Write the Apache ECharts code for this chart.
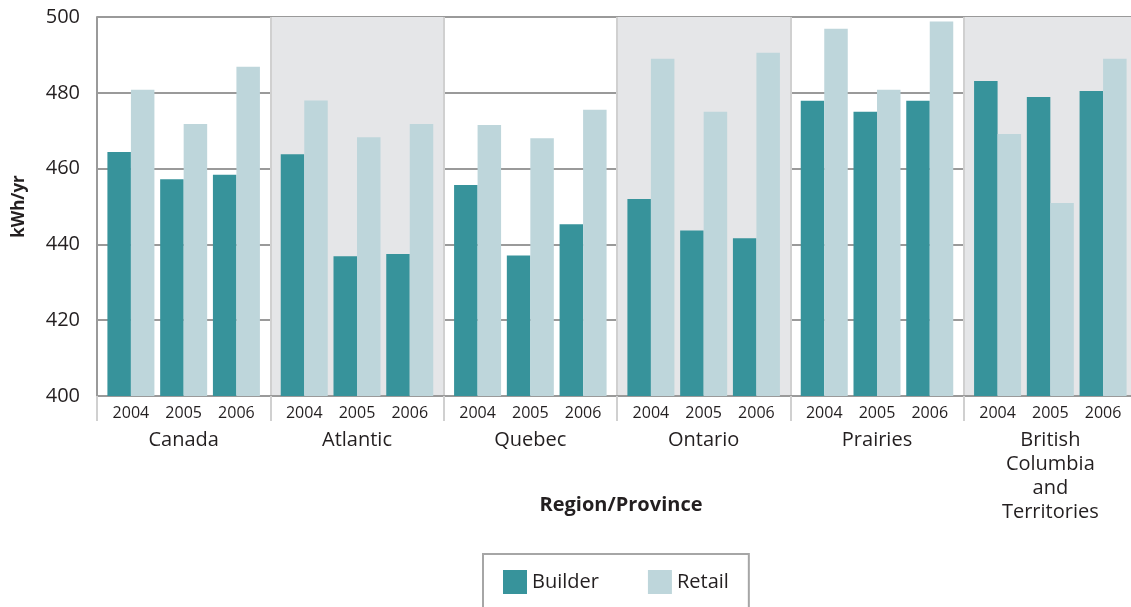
<!DOCTYPE html>
<html>
<head>
<meta charset="utf-8">
<script src="https://cdn.jsdelivr.net/npm/echarts@6/dist/echarts.min.js"></script>
<style>
html,body{margin:0;padding:0;background:#fff;}
#chart{width:1131px;height:607px;}
</style>
</head>
<body>
<div id="chart"></div>
<script>
// ---- data ----
var regions = ['Canada', 'Atlantic', 'Quebec', 'Ontario', 'Prairies', 'British\nColumbia\nand\nTerritories'];
var years = ['2004', '2005', '2006'];
var builder = [
  464.4, 457.2, 458.4,   // Canada
  463.8, 436.9, 437.5,   // Atlantic
  455.7, 437.1, 445.3,   // Quebec
  452.0, 443.7, 441.6,   // Ontario
  477.9, 475.0, 477.9,   // Prairies
  483.1, 478.9, 480.5    // BC & Territories
];
var retail = [
  480.8, 471.8, 486.9,
  478.0, 468.3, 471.8,
  471.5, 468.0, 475.5,
  489.0, 475.0, 490.6,
  496.9, 480.8, 498.8,
  469.1, 450.9, 489.0
];
var yTicks = [400, 420, 440, 460, 480, 500];

// ---- build fine category axis (slots per region; years at fixed slots) ----
var SLOTS = 23;
var yearSlot = [4, 11, 18];
var fineCats = [], builderData = [], retailData = [];
regions.forEach(function (r, ri) {
  for (var s = 0; s < SLOTS; s++) {
    var yi = yearSlot.indexOf(s);
    if (yi >= 0) {
      fineCats.push(ri + '|' + years[yi]);
      builderData.push(builder[ri * 3 + yi]);
      retailData.push(retail[ri * 3 + yi]);
    } else {
      fineCats.push(ri + '|pad' + s);
      builderData.push(null);
      retailData.push(null);
    }
  }
});

var FONT = '"Open Sans", "Noto Sans", sans-serif';
var TXT = '#231f20';

var chart = echarts.init(document.getElementById('chart'), null, {renderer: 'canvas'});
chart.setOption({
  animation: false,
  textStyle: {fontFamily: FONT},
  grid: {left: 97, width: 1040, top: 17, height: 379, containLabel: false, outerBoundsMode: 'none'},
  title: {
    text: 'Region/Province',
    left: 616, top: 490, textAlign: 'center',
    textStyle: {fontSize: 20, fontWeight: 'bold', color: TXT, fontFamily: FONT}
  },
  legend: {
    left: 483, top: 554,
    orient: 'horizontal',
    icon: 'rect',
    itemWidth: 24, itemHeight: 24, itemGap: 49,
    padding: [16, 20, 20, 20],
    borderColor: '#a6a6a6', borderWidth: 2,
    textStyle: {fontSize: 20, color: TXT, fontFamily: FONT},
    data: ['Builder', 'Retail']
  },
  xAxis: [
    {
      type: 'category',
      data: fineCats,
      boundaryGap: true,
      axisLine: {show: true, lineStyle: {color: '#9a9a9a', width: 2}},
      axisTick: {show: true, length: 25, interval: function (i) { return i === 0; },
                 lineStyle: {color: '#9a9a9a', width: 2}},
      axisLabel: {
        interval: 0, margin: 9, fontSize: 16, lineHeight: 16, color: TXT, fontFamily: FONT,
        formatter: function (v) { var p = v.split('|')[1]; return p.indexOf('pad') === 0 ? '' : p; }
      },
      splitLine: {show: false}
    },
    {
      type: 'category',
      data: regions,
      position: 'bottom',
      boundaryGap: true,
      axisLine: {show: false},
      axisTick: {show: true, length: 25, lineStyle: {color: '#d0d0d0', width: 2}},
      axisLabel: {interval: 0, margin: 32, fontSize: 20, lineHeight: 24, color: TXT, fontFamily: FONT},
      splitLine: {show: true, lineStyle: {color: '#d0d0d0', width: 2}},
      splitArea: {show: true, areaStyle: {color: ['rgba(255,255,255,0)', '#e5e6e8']}}
    }
  ],
  yAxis: {
    type: 'value',
    min: yTicks[0], max: yTicks[yTicks.length - 1], interval: 20,
    axisLine: {show: true, lineStyle: {color: '#9a9a9a', width: 2}},
    axisTick: {show: false},
    axisLabel: {margin: 17, fontSize: 20, color: TXT, fontFamily: FONT},
    splitLine: {show: true, lineStyle: {color: '#9a9a9a', width: 2}},
    name: 'kWh/yr',
    nameLocation: 'middle',
    nameRotate: 90,
    nameGap: 69,
    nameTextStyle: {fontSize: 17, fontWeight: 'bold', color: TXT, fontFamily: FONT}
  },
  series: [
    {
      name: 'Builder', type: 'bar', xAxisIndex: 0,
      data: builderData, barWidth: 23.5, barGap: '0%',
      itemStyle: {color: '#37939b'}
    },
    {
      name: 'Retail', type: 'bar', xAxisIndex: 0,
      data: retailData, barWidth: 23.5, barGap: '0%',
      itemStyle: {color: '#bed6db'}
    }
  ]
});
</script>
</body>
</html>
